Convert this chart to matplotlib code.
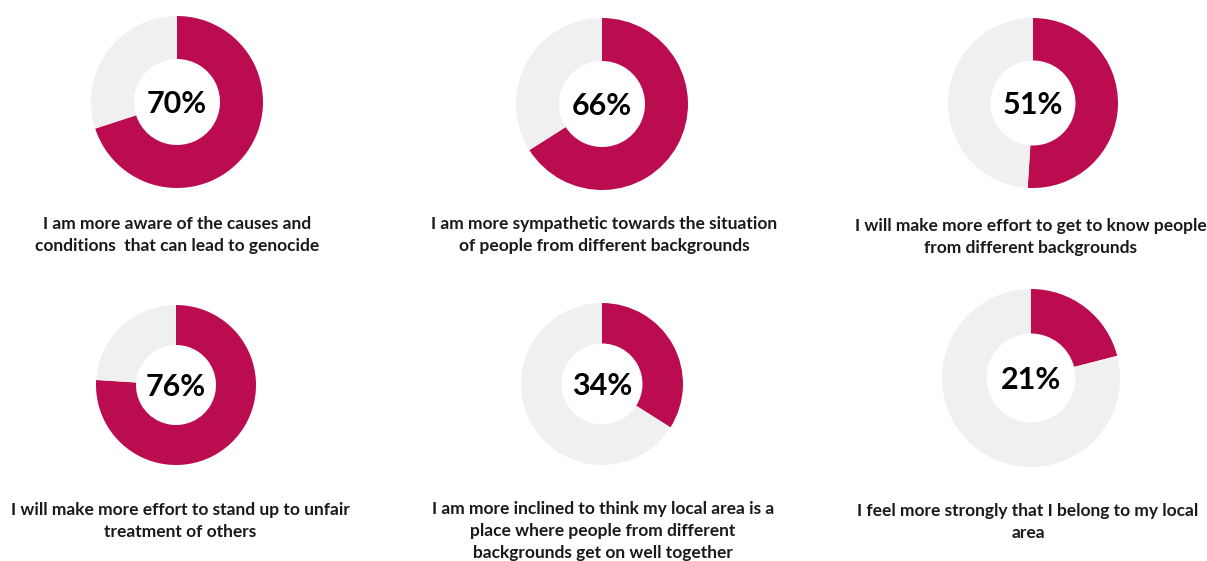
import matplotlib.pyplot as plt

W, H = 1207, 561

# survey results (share agreeing, %)
values = [70, 66, 51, 76, 34, 21]
labels = [
    'I am more aware of the causes and\nconditions  that can lead to genocide',
    'I am more sympathetic towards the situation\nof people from different backgrounds',
    'I will make more effort to get to know people\nfrom different backgrounds',
    'I will make more effort to stand up to unfair\ntreatment of others',
    'I am more inclined to think my local area is a\nplace where people from different\nbackgrounds get on well together',
    'I feel more strongly that I belong to my local\narea',
]

# layout in pixels: donut centre x, centre y, outer radius; label centre x, top y
centres = [(177, 102, 86), (602, 104, 86), (1033, 103, 85),
           (176, 385, 80), (602, 384, 81), (1031, 378, 89)]
label_pos = [(177, 216), (604, 216), (1031, 218),
             (180, 502), (603, 501), (1028, 503)]

MAGENTA = '#BA0C4F'
GREY = '#F0F0F0'

fig = plt.figure(figsize=(W / 100, H / 100), dpi=100)
fig.patch.set_facecolor('white')

for i, v in enumerate(values):
    cx, cy, r = centres[i]
    ax = fig.add_axes([(cx - r) / W, 1 - (cy + r) / H, 2 * r / W, 2 * r / H])
    ax.pie([v, 100 - v], colors=[MAGENTA, GREY], startangle=90, counterclock=False,
           radius=1, wedgeprops=dict(width=0.5, linewidth=0))
    ax.set_xlim(-1, 1)
    ax.set_ylim(-1, 1)
    ax.set_aspect('equal')
    ax.axis('off')
    ax.text(0, -0.02, f'{v}%', ha='center', va='center', fontsize=22,
            fontweight='bold', family=['Lato', 'DejaVu Sans'], color='black')

    lx, ly = label_pos[i]
    fig.text(lx / W, 1 - ly / H, labels[i], ha='center', va='top', fontsize=12.5,
             fontweight='bold', family=['Lato', 'DejaVu Sans'], color='#1a1a1a',
             linespacing=1.45)

fig.savefig('out.png', dpi=100, facecolor='white')
